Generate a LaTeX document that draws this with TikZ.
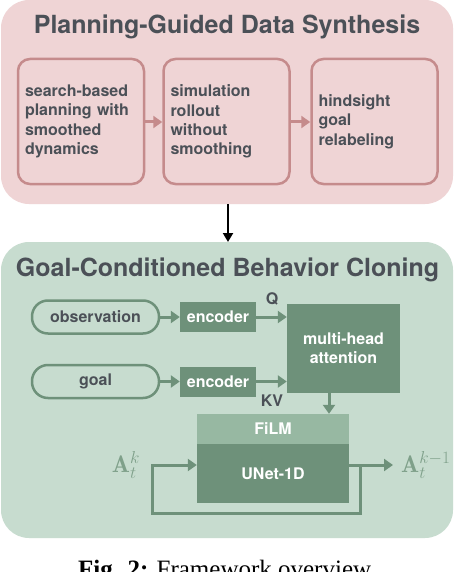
\documentclass[tikz,border=0pt]{standalone}
\usepackage{fontspec}
\setsansfont{TeX Gyre Heros}
\newfontfamily\capfont{Liberation Serif}
\usetikzlibrary{arrows.meta,positioning}
\definecolor{pinkbg}{HTML}{EFD4D5}
\definecolor{pinkln}{HTML}{C58B8C}
\definecolor{darktxt}{HTML}{4B5057}
\definecolor{greenbg}{HTML}{C7DCCF}
\definecolor{greendk}{HTML}{6E917A}
\definecolor{greenlt}{HTML}{97B8A2}
\definecolor{mathcol}{HTML}{7FA08A}
\tikzset{
  x=1pt, y=-1pt,
  panel/.style={rounded corners=28pt, draw=none},
  titletxt/.style={font=\sffamily\bfseries\fontsize{25}{28}\selectfont, text=darktxt, inner sep=0pt},
  stagebox/.style={draw=pinkln, line width=2.5pt, rounded corners=12pt, fill=pinkbg,
     minimum width=126pt, minimum height=125pt, text width=112pt, align=left, inner sep=0pt,
     font=\sffamily\bfseries\fontsize{16}{19.3}\selectfont, text=darktxt},
  pinkarrow/.style={draw=pinkln, line width=3pt, -{Triangle[length=9pt,width=12pt]}},
  greenarrow/.style={draw=greendk, line width=3pt, -{Triangle[length=9pt,width=12pt]}},
  pill/.style={draw=greendk, line width=2.5pt, rounded corners=16pt, minimum width=127pt,
     minimum height=33pt, inner sep=0pt, font=\sffamily\bfseries\fontsize{16}{18}\selectfont, text=darktxt},
  darkbox/.style={fill=greendk, inner sep=0pt, font=\sffamily\bfseries\fontsize{16}{19}\selectfont, text=white, align=center},
  lbl/.style={font=\sffamily\bfseries\fontsize{16}{18}\selectfont, text=darktxt, inner sep=0pt},
  mlbl/.style={font=\fontsize{24}{28}\selectfont, text=mathcol, inner sep=0pt}
}
\begin{document}
\begin{tikzpicture}
\useasboundingbox (0,0) rectangle (454,572);
\fill[white] (0,0) rectangle (454,572);
% top panel
\fill[pinkbg, panel] (1,0) rectangle (453,204);
\node[titletxt] (t1) at (227,27) {Planning-Guided Data Synthesis};
\node[stagebox] (s1) at (81,121.5) {search-based\\planning with\\smoothed\\dynamics};
\node[stagebox] (s2) at (226.5,121.5) {simulation\\rollout\\without\\smoothing};
\node[stagebox] (s3) at (374.5,121.5) {hindsight\\goal\\relabeling};
\draw[pinkarrow] (s1.east |- 0,122) -- (s2.west |- 0,122);
\draw[pinkarrow] (s2.east |- 0,122) -- (s3.west |- 0,122);
% bottom panel
\fill[greenbg, panel] (1,242) rectangle (453,538);
\coordinate (topbot) at (228,204);
\coordinate (grtop) at (228,242);
\draw[black, line width=2pt, -{Triangle[length=9pt,width=10pt]}] (topbot) -- (grtop);
\node[titletxt] (t2) at (227.5,270) {Goal-Conditioned Behavior Cloning};
\node[pill] (obs) at (95.5,317) {observation};
\node[pill] (goal) at (95.5,381.5) {goal};
\node[darkbox, minimum width=76pt, minimum height=30pt] (enc1) at (218,317) {encoder};
\node[darkbox, minimum width=76pt, minimum height=30pt] (enc2) at (218,381.5) {encoder};
\node[darkbox, minimum width=113pt, minimum height=89pt] (mha) at (343.5,348.5) {multi-head\\attention};
\draw[greenarrow] (obs.east) -- (enc1.west);
\draw[greenarrow] (goal.east) -- (enc2.west);
\draw[greenarrow] (enc1.east) -- (enc1.east -| mha.west);
\draw[greenarrow] (enc2.east) -- (enc2.east -| mha.west);
\node[lbl] (q) at (272,299) {Q};
\node[lbl] (kv) at (272,401) {KV};
\node[fill=greenlt, minimum width=152pt, minimum height=30pt, inner sep=0pt,
  font=\sffamily\bfseries\fontsize{16}{18}\selectfont, text=white] (film) at (273,429) {FiLM};
\node[darkbox, minimum width=152pt, minimum height=59pt] (unet) at (273,473.5) {UNet-1D};
\draw[greenarrow] (mha.south -| 329,0) -- (film.north -| 329,0);
\node[mlbl] (ak) at (126,465) {$\mathbf{A}_t^k$};
\node[mlbl, anchor=west] (ak1) at (401,465) {$\mathbf{A}_t^{k-1}$};
\coordinate (outx) at (393,465);
\draw[greenarrow] (unet.east |- 0,465) -- (outx);
\draw[draw=greendk, line width=3pt, -{Triangle[length=9pt,width=12pt]}]
  (360,465) -- (360,513) -- (152,513) -- (152,465) -- (unet.west |- 0,465);
% caption
\node[font=\capfont\fontsize{25}{28}\selectfont, anchor=base west, inner sep=0pt] (cap) at (78,577)
  {\textbf{Fig. 2:} Framework overview};
\end{tikzpicture}
\end{document}
